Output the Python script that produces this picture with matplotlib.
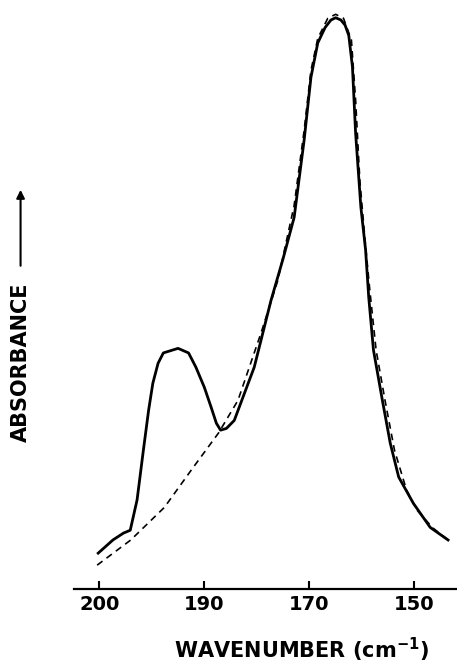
import numpy as np
import matplotlib
matplotlib.use("Agg")
import matplotlib.pyplot as plt

# measured spectrum (solid) and fitted band envelope (dashed), arbitrary absorbance
wn_solid = [200.1, 198.7, 197.7, 197.05, 196.4, 195.8, 195.3, 194.9, 194.4, 193.9,
            192.5, 191.5, 190.8, 190.0, 188.7, 187.7, 186.9, 185.8, 184.3, 180.5,
            177.3, 175.0, 172.9, 171.0, 169.7, 168.4, 167.0, 165.9, 165.0, 164.0,
            163.2, 162.5, 161.8, 161.2, 160.2, 159.3, 158.7, 157.8, 156.1, 154.6,
            153.0, 150.2, 147.0, 143.6]
abs_solid = [0.063, 0.086, 0.098, 0.103, 0.156, 0.243, 0.313, 0.360, 0.395, 0.413,
             0.421, 0.413, 0.388, 0.353, 0.318, 0.290, 0.278, 0.281, 0.295, 0.388,
             0.505, 0.578, 0.650, 0.785, 0.895, 0.955, 0.982, 0.995, 0.999, 0.995,
             0.986, 0.968, 0.913, 0.797, 0.668, 0.593, 0.510, 0.418, 0.330, 0.255,
             0.196, 0.150, 0.108, 0.086]

wn_dash = [200.2, 197.0, 193.8, 191.25, 187.3, 183.6, 179.2, 176.0, 172.9, 171.0,
           169.7, 168.4, 166.5, 165.0, 163.5, 162.0, 161.2, 160.4, 159.4, 158.5,
           157.3, 155.6, 153.8, 151.5, 149.5, 146.5, 143.6]
abs_dash = [0.042, 0.086, 0.143, 0.208, 0.273, 0.330, 0.448, 0.540, 0.671, 0.802,
            0.907, 0.963, 0.998, 1.005, 0.998, 0.960, 0.855, 0.715, 0.610, 0.523,
            0.418, 0.330, 0.243, 0.173, 0.138, 0.107, 0.086]

tick_wn = [200, 190, 170, 150]
tick_labels = ["200", "190", "170", "150"]


# axis scale changes at 190 cm-1 (200-190 is drawn twice as wide)
def fwd(w):
    w = np.asarray(w, dtype=float)
    return -np.where(w >= 190, (200 - w) / 10.0, 1 + (190 - w) / 20.0)


def inv(u):
    u = -np.asarray(u, dtype=float)
    return np.where(u <= 1, 200 - 10.0 * u, 190 - 20.0 * (u - 1))


plt.rcParams['font.family'] = ['DejaVu Sans']
plt.rcParams['font.weight'] = 'bold'

fig = plt.figure(figsize=(4.57, 6.68), dpi=100)
ax = fig.add_axes([0.162, 0.118, 0.838, 0.882])
ax.set_xscale('function', functions=(fwd, inv))

ax.plot(wn_solid, abs_solid, color='black', lw=2.0, solid_joinstyle='round')
ax.plot(wn_dash, abs_dash, color='black', lw=1.2, dashes=(4, 3))

ax.set_xlim(202.4, 141.9)
ax.set_ylim(0, 1.03)

for s in ['left', 'top', 'right']:
    ax.spines[s].set_visible(False)
ax.spines['bottom'].set_linewidth(1.6)
ax.set_yticks([])
ax.set_xticks(tick_wn)
ax.set_xticklabels(tick_labels, fontsize=14, fontweight='bold')
ax.tick_params(axis='x', direction='in', length=6, width=1.5, pad=4)
ax.xaxis.set_minor_locator(plt.NullLocator())

fig.text(0.66, 0.006, "WAVENUMBER (cm$^{\\mathbf{-1}}$)", ha='center', va='bottom',
         fontsize=15, fontweight='bold')
fig.text(0.045, 0.458, "ABSORBANCE", rotation=90, ha='center', va='center',
         fontsize=15, fontweight='bold')
fig.patches.append(matplotlib.patches.FancyArrowPatch(
    (0.045, 0.598), (0.045, 0.72), transform=fig.transFigure,
    arrowstyle='-|>', mutation_scale=12, color='black', lw=1.5))

fig.savefig("out.png", dpi=100)
